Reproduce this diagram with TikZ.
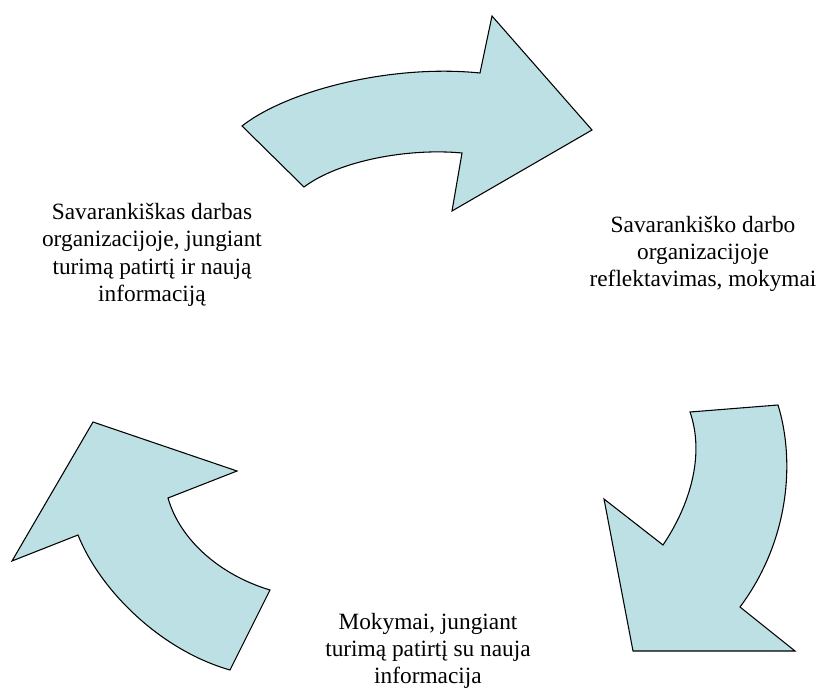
\documentclass[tikz,border=0pt]{standalone}
\usepackage{fontspec}
\setmainfont{Liberation Serif}
\definecolor{arrowblue}{RGB}{188,224,227}

\begin{document}
\begin{tikzpicture}[x=0.75pt,y=-0.75pt]
        \tikzstyle{every node}=[align=center,inner sep=0pt,font=\fontsize{17.5}{20.5}\selectfont]
        \tikzstyle{arrowshape}=[fill=arrowblue,draw=black,line width=0.8pt,line join=miter]
        \useasboundingbox (0,0) rectangle (822,688);
        % rodykle virsuje
        \draw[arrowshape] (242,126) .. controls (288,90) and (392,64) .. (480,73) -- (492,16) -- (592,130) -- (452,211) -- (462,153) .. controls (410,148) and (340,160) .. (304,187) -- cycle;
        % rodykle desineje
        \draw[arrowshape] (690,412) -- (778,405) .. controls (795,460) and (790,540) .. (740,607) -- (795,651) -- (633,651) -- (604,499) -- (663,545) .. controls (690,505) and (705,455) .. (690,412) -- cycle;
        % rodykle kaireje
        \draw[arrowshape] (93,422) -- (237,471) -- (168,498) .. controls (180,540) and (220,575) .. (270,590) -- (230,670) .. controls (160,650) and (100,590) .. (78,535) -- (12,561) -- cycle;
        \node (darbas) at (152,255) {Savarankiškas darbas\\organizacijoje, jungiant\\turimą patirtį ir naują\\informaciją};
        \node (refleksija) at (703,254) {Savarankiško darbo\\organizacijoje\\reflektavimas, mokymai};
        \node (mokymai) at (428,651) {Mokymai, jungiant\\turimą patirtį su nauja\\informacija};
    \end{tikzpicture}
\end{document}
